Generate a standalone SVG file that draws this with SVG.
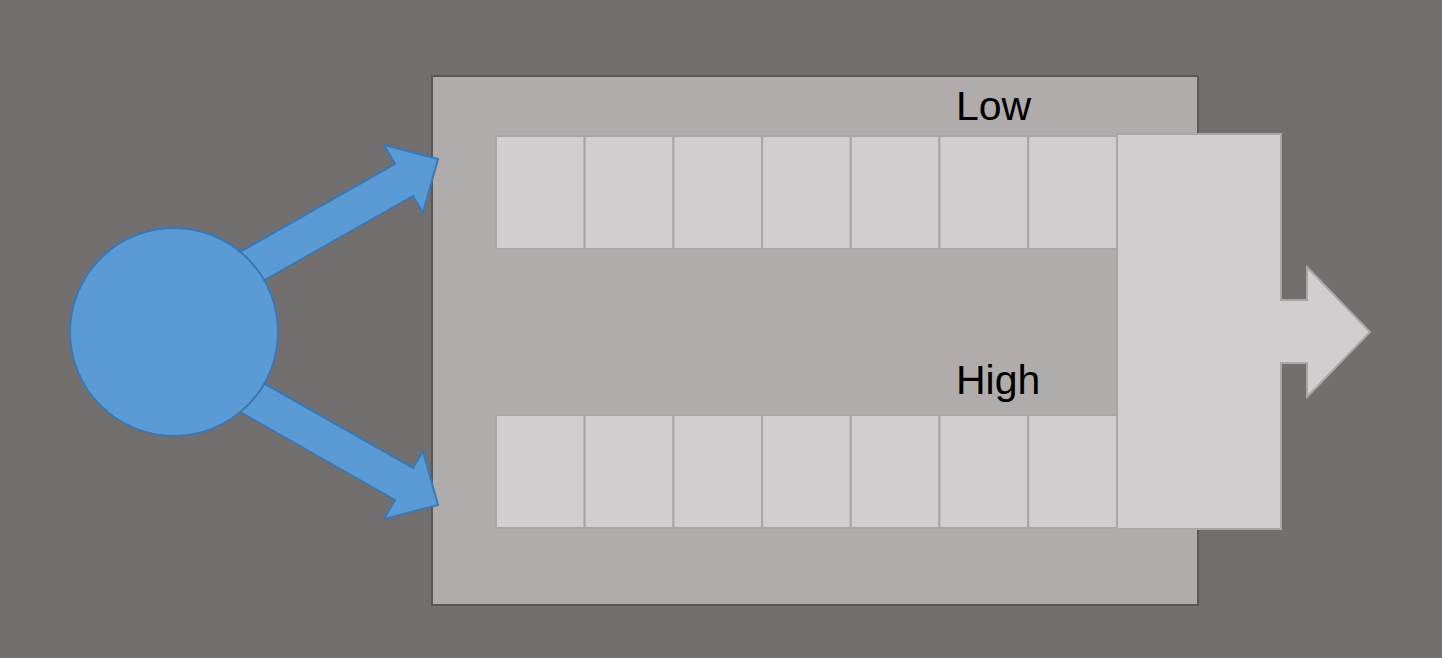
<svg xmlns="http://www.w3.org/2000/svg" width="1442" height="658" viewBox="0 0 1442 658">
<style>
.bg{fill:#736f6e}
.box{fill:#b0acab;stroke:#595757;stroke-width:2}
.cell{fill:#d0cecf;stroke:#a9a6a6;stroke-width:2}
.blue{fill:#5b9bd5;stroke:#3a78b5;stroke-width:2;stroke-linejoin:miter}
.lbl{font-family:"Liberation Sans",Arial,sans-serif;font-size:41px;fill:#000}
</style>
<defs>
<g id="row">
<rect class="cell" x="496" y="0" width="88.7" height="113"/>
<rect class="cell" x="584.7" y="0" width="88.7" height="113"/>
<rect class="cell" x="673.4" y="0" width="88.7" height="113"/>
<rect class="cell" x="762.1" y="0" width="88.7" height="113"/>
<rect class="cell" x="850.8" y="0" width="88.7" height="113"/>
<rect class="cell" x="939.5" y="0" width="88.7" height="113"/>
<rect class="cell" x="1028.2" y="0" width="88.8" height="113"/>
</g>
<polygon id="barrow" points="200,274.7 395,164 384,145 438,159 423,213 413,196 200,316.9"/>
</defs>
<rect class="bg" x="0" y="0" width="1442" height="658"/>
<g id="queue-box">
<rect class="box" x="432" y="76" width="766" height="529"/>
</g>
<g id="low-queue">
<use href="#row" y="136"/>
<text class="lbl" x="956" y="120">Low</text>
</g>
<g id="high-queue">
<use href="#row" y="415"/>
<text class="lbl" x="956" y="394">High</text>
</g>
<g id="output">
<path class="cell" d="M1117,134 H1281 V300 H1307 V267 L1370,332 L1307,397 V363 H1281 V529 H1117 Z"/>
</g>
<g id="connectors">
<use href="#barrow" class="blue"/>
<use href="#barrow" class="blue" transform="matrix(1,0,0,-1,0,664)"/>
</g>
<g id="source">
<circle class="blue" cx="174" cy="332" r="104"/>
</g>
</svg>
